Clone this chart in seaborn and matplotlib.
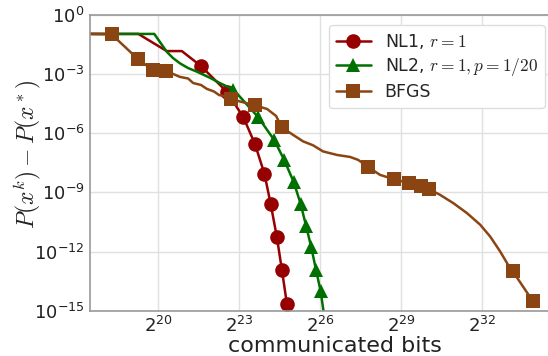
import numpy as np
import pandas as pd
import matplotlib
matplotlib.use("Agg")
import matplotlib.pyplot as plt
import seaborn as sns

# Curves stored as (log2 of communicated bits, log10 of functional gap)
nl1_log2_bits = [17.47, 19.26, 20.31, 20.87, 21.58, 22.54, 23.15, 23.58, 23.93,
                 24.16, 24.39, 24.58, 24.76]
nl1_log10_gap = [-0.96, -0.96, -1.83, -1.83, -2.59, -3.90, -5.19, -6.55, -8.06,
                 -9.58, -11.27, -12.96, -14.65]
nl1_marks = [4, 5, 6, 7, 8, 9, 10, 11, 12]

nl2_log2_bits = [17.47, 19.85, 20.06, 20.31, 20.54, 20.80, 21.10, 21.42, 21.92,
                 22.29, 22.78, 23.69, 24.29, 24.66, 25.01, 25.27, 25.47, 25.66,
                 25.84, 26.01, 26.12]
nl2_log10_gap = [-0.96, -0.96, -1.37, -1.86, -2.18, -2.45, -2.69, -2.87, -3.19,
                 -3.46, -3.78, -5.17, -6.34, -7.35, -8.46, -9.58, -10.69, -11.76,
                 -12.93, -14.01, -15.05]
nl2_marks = [10, 11, 12, 13, 14, 15, 16, 17, 18, 19]

bfgs_log2_bits = [17.47, 18.27, 19.24, 19.79, 20.27, 20.51, 20.80, 21.10, 21.29,
                  21.58, 21.80, 22.06, 22.25, 22.43, 22.69, 23.58, 24.03, 24.36,
                  24.57, 24.99, 25.36, 25.73, 26.10, 26.62, 27.10, 27.40, 27.76,
                  28.21, 28.72, 29.30, 29.71, 30.04, 30.43, 30.92, 31.43, 31.92,
                  32.29, 32.66, 32.95, 33.13, 33.86]
bfgs_log10_gap = [-0.96, -0.98, -2.23, -2.79, -2.82, -2.97, -3.14, -3.22, -3.45,
                  -3.55, -3.75, -3.88, -4.06, -4.11, -4.27, -4.58, -4.77, -5.12,
                  -5.70, -6.08, -6.41, -6.61, -6.92, -7.10, -7.20, -7.35, -7.70,
                  -8.11, -8.33, -8.53, -8.68, -8.85, -9.12, -9.54, -10.05, -10.64,
                  -11.24, -12.00, -12.67, -13.01, -14.50]
bfgs_marks = [1, 2, 3, 4, 14, 15, 18, 26, 28, 29, 30, 31, 39, 40]

x_ticks = [2.0**20, 2.0**23, 2.0**26, 2.0**29, 2.0**32]
y_ticks = [1e0, 1e-3, 1e-6, 1e-9, 1e-12, 1e-15]

sns.set_theme(style="whitegrid")
plt.rcParams["font.family"] = ["DejaVu Sans"]
plt.rcParams["mathtext.fontset"] = "cm"
plt.rcParams["axes.unicode_minus"] = False

fig = plt.figure(figsize=(5.48, 3.56), dpi=100)
ax = fig.add_axes([90 / 548, 45.3 / 356, 458 / 548, 295.7 / 356])

series = [
    ("NL1, $r=1$", nl1_log2_bits, nl1_log10_gap, nl1_marks, "#960000", "o"),
    ("NL2, $r=1, p=1/20$", nl2_log2_bits, nl2_log10_gap, nl2_marks, "#007000", "^"),
    ("BFGS", bfgs_log2_bits, bfgs_log10_gap, bfgs_marks, "#8B4513", "s"),
]

for label, lx, ly, marks, color, marker in series:
    df = pd.DataFrame({"bits": 2.0 ** np.array(lx), "gap": 10.0 ** np.array(ly)})
    sns.lineplot(data=df, x="bits", y="gap", ax=ax, estimator=None, sort=False,
                 color=color, linewidth=1.8, marker=marker, markersize=10.5,
                 markeredgewidth=0, markevery=marks, label=label)

ax.set_xscale("log", base=2)
ax.set_yscale("log")
ax.set_xlim(2.0 ** 17.47, 2.0 ** 34.43)
ax.set_ylim(1e-15, 1e0)
ax.set_xticks(x_ticks)
ax.set_yticks(y_ticks)
ax.minorticks_off()
ax.tick_params(axis="both", labelsize=13, length=0, pad=4, colors="#222222")

ax.grid(True, color="#e0e0e0", linewidth=1.0)
for side in ["left", "bottom", "top"]:
    ax.spines[side].set_color("#999999")
    ax.spines[side].set_linewidth(1.2)
ax.spines["right"].set_visible(False)

ax.set_xlabel("communicated bits", fontsize=16, color="#222222")
ax.xaxis.set_label_coords((335 - 90) / 458, -0.085)
ax.set_ylabel("$P(x^k) - P(x^*)$", fontsize=17, color="#222222")
ax.yaxis.set_label_coords(-0.102, 0.53)

leg = ax.legend(loc="upper right", fontsize=12.5, frameon=True, fancybox=True,
                borderpad=0.4, handlelength=2.0, labelspacing=0.3,
                borderaxespad=0.2, bbox_to_anchor=(1.0, 0.978))
leg.get_frame().set_edgecolor("#dddddd")
leg.get_frame().set_alpha(1.0)

fig.savefig("out.png", dpi=100)
